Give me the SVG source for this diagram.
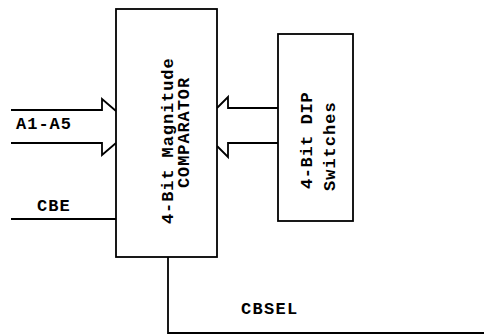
<svg xmlns="http://www.w3.org/2000/svg" width="484" height="335" viewBox="0 0 484 335">
<style>
.box{fill:#fff;stroke:#000;stroke-width:1.8}
.ln{fill:none;stroke:#000;stroke-width:1.8;stroke-linejoin:miter}
.t{font-family:"Liberation Mono","Courier New",monospace;font-weight:bold;fill:#000;font-size:17px}
</style>
<rect width="484" height="335" fill="#fff"/>
<g id="connectors">
<path class="ln" d="M11,110 H102 V99 L116,111"/>
<path class="ln" d="M11,143 H102 V155 L116,143"/>
<path class="ln" d="M278,108 H228 V97 L217,108"/>
<path class="ln" d="M278,143 H228 V157 L217,146"/>
<path class="ln" d="M11,219 H116"/>
<path class="ln" d="M168,257 V333 H484"/>
<text class="t" x="16" y="129" letter-spacing="1">A1-A5</text>
<text class="t" x="37" y="211" letter-spacing="1">CBE</text>
<text class="t" x="241" y="314" letter-spacing="1.3">CBSEL</text>
</g>
<g id="comparator">
<rect class="box" x="116" y="9" width="101" height="248"/>
<text class="t" letter-spacing="0.9" transform="translate(173,224) rotate(-90)">4-Bit Magnitude</text>
<text class="t" letter-spacing="0.9" transform="translate(189,188) rotate(-90)">COMPARATOR</text>
</g>
<g id="dip">
<rect class="box" x="278" y="34" width="75" height="187"/>
<text class="t" letter-spacing="0.6" transform="translate(312,189) rotate(-90)">4-Bit DIP</text>
<text class="t" letter-spacing="1" transform="translate(335,191) rotate(-90)">Switches</text>
</g>
</svg>
